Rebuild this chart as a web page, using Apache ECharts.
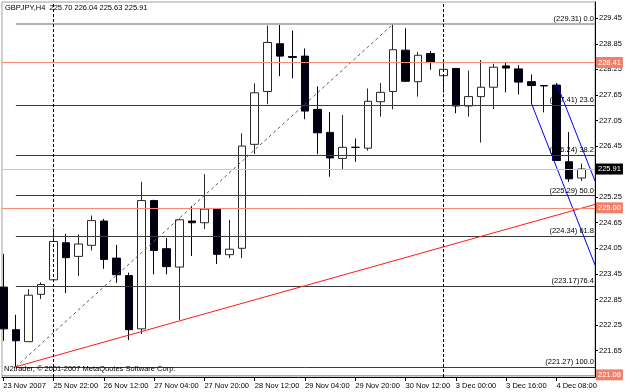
<!DOCTYPE html>
<html><head><meta charset="utf-8">
<script src="https://cdn.jsdelivr.net/npm/echarts@6/dist/echarts.min.js"></script>
<style>html,body{margin:0;padding:0;background:#fff}#c{width:625px;height:392px}</style>
</head><body><div id="c"></div>
<script>
// ---------- data ----------
const symbol = 'GBPJPY';
const timeframe = 'H4';
const times = [
 '2007.11.23 08:00','2007.11.23 12:00','2007.11.23 16:00','2007.11.23 20:00',
 '2007.11.25 22:00','2007.11.26 00:00','2007.11.26 04:00','2007.11.26 08:00','2007.11.26 12:00','2007.11.26 16:00','2007.11.26 20:00',
 '2007.11.27 00:00','2007.11.27 04:00','2007.11.27 08:00','2007.11.27 12:00','2007.11.27 16:00','2007.11.27 20:00',
 '2007.11.28 00:00','2007.11.28 04:00','2007.11.28 08:00','2007.11.28 12:00','2007.11.28 16:00','2007.11.28 20:00',
 '2007.11.29 00:00','2007.11.29 04:00','2007.11.29 08:00','2007.11.29 12:00','2007.11.29 16:00','2007.11.29 20:00',
 '2007.11.30 00:00','2007.11.30 04:00','2007.11.30 08:00','2007.11.30 12:00','2007.11.30 16:00','2007.11.30 20:00',
 '2007.12.02 22:00','2007.12.03 00:00','2007.12.03 04:00','2007.12.03 08:00','2007.12.03 12:00','2007.12.03 16:00','2007.12.03 20:00',
 '2007.12.04 00:00','2007.12.04 04:00','2007.12.04 08:00','2007.12.04 12:00','2007.12.04 16:00'];
const open  = [223.14,222.14,221.86,222.97,223.31,224.18,223.86,224.12,224.69,223.82,223.41,222.16,225.17,224.04,223.61,224.69,224.65,224.97,223.90,224.05,226.49,227.73,228.85,228.55,228.56,227.31,226.77,226.16,226.42,226.40,227.49,227.73,228.70,227.96,228.62,228.10,228.27,227.39,227.61,227.83,228.33,228.26,227.96,227.87,227.88,226.08,225.70];
const high  = [223.92,222.49,223.09,223.25,224.52,224.39,224.38,224.82,224.74,224.13,223.48,225.61,225.19,224.29,224.75,225.04,225.79,224.98,224.72,226.75,227.92,229.28,229.29,229.16,228.74,227.85,227.25,227.18,226.63,227.80,227.93,229.31,229.21,228.66,228.68,228.40,228.28,228.22,228.47,228.38,228.41,228.35,228.13,227.88,227.93,226.78,226.04];
const low   = [221.88,221.27,221.85,222.86,223.30,223.00,223.40,224.00,223.57,223.24,221.90,222.04,223.44,223.44,222.37,223.87,224.50,223.68,223.82,223.82,226.26,227.43,228.09,228.04,227.08,226.26,225.73,225.91,226.08,226.34,227.14,227.31,227.95,227.61,228.24,227.70,227.22,227.14,226.53,227.32,227.71,227.66,227.46,227.24,226.10,225.61,225.63];
const close = [222.16,221.88,222.95,223.20,224.21,223.83,224.15,224.70,223.79,223.43,222.14,225.17,224.00,223.62,224.72,224.65,224.97,223.91,224.03,226.45,227.70,228.88,228.56,228.53,227.27,226.76,226.17,226.42,226.42,227.50,227.71,228.71,227.97,228.58,228.41,228.25,227.39,227.61,227.83,228.30,228.28,227.95,227.87,227.86,226.11,225.68,225.91];

const tickBars   = [0,4,8,12,16,20,24,28,32,36,40,44];
const tickLabels = ['23 Nov 2007','25 Nov 22:00','26 Nov 12:00','27 Nov 04:00','27 Nov 20:00','28 Nov 12:00','29 Nov 04:00','29 Nov 20:00','30 Nov 12:00','3 Dec 00:00','3 Dec 16:00','4 Dec 08:00'];
const priceTicks = [221.65,222.25,222.85,223.45,224.05,224.65,225.25,225.85,226.45,227.05,227.65,228.25,228.85,229.45];

const redLevels = [228.41, 225.00, 221.08];
const bidPrice = 225.91;
const fibPrices = [229.31, 227.41, 226.24, 225.29, 224.34, 223.17, 221.27];
const fibLabels = ['(229.31) 0.0','(227.41) 23.6','(226.24) 38.2','(225.29) 50.0','(224.34) 61.8','(223.17)76.4','(221.27) 100.0'];
const fibFromBar = 1, fibToBar = 31;
const separatorBars = [4, 35];
const trendFrom = [1, 221.27], trendEdgePrice = 225.08;
const channelA = [42, 227.46], channelAEdgePrice = 223.66;
const channelB = [44, 227.93], channelBEdgePrice = 225.63;
const copyright = 'N2trader, \u00a9 2001-2007 MetaQuotes Software Corp.';

// ---------- layout ----------
const xMin = -0.103, xMax = 47.07;
const yMin = 221.03, yMax = 229.83;
const FONT = '"Liberation Sans", Arial, sans-serif';
const FS = 7.5;

const source = times.map((t, i) => [i, open[i], close[i], low[i], high[i]]);
const last = times.length - 1;

const ml = [];
fibPrices.forEach((p, i) => {
  ml.push([{coord:[fibFromBar, p], lineStyle:{color: i === 0 ? '#9a9a9a' : '#3a3a3a', width: i === 0 ? 1.5 : 1, type:'solid'},
            label:{show:true, position:'insideEndTop', formatter: fibLabels[i], color:'#000', fontSize:FS, fontFamily:FONT, distance:1, padding:0}},
           {coord:[xMax, p]}]);
});
ml.push([{coord:[fibFromBar, fibPrices[6]], lineStyle:{color:'#5a5a5a', width:1, type:[3,3]}, label:{show:false}},
         {coord:[fibToBar, fibPrices[0]]}]);
ml.push([{coord:trendFrom, lineStyle:{color:'#ff1a1a', width:1, type:'solid'}, label:{show:false}},
         {coord:[xMax, trendEdgePrice]}]);
ml.push([{coord:channelA, lineStyle:{color:'#0000ff', width:1, type:'solid'}, label:{show:false}}, {coord:[xMax, channelAEdgePrice]}]);
ml.push([{coord:channelB, lineStyle:{color:'#0000ff', width:1, type:'solid'}, label:{show:false}}, {coord:[xMax, channelBEdgePrice]}]);
redLevels.forEach(p => {
  ml.push({yAxis:p, lineStyle:{color:'#f58a73', width:1, type:'solid'},
    label:{show:true, position:'end', formatter:p.toFixed(2), color:'#fff', backgroundColor:'#f0806a', padding:[2,2,1,2], fontSize:FS, fontFamily:FONT, distance:1}});
});
ml.push({yAxis:bidPrice, lineStyle:{color:'#c8c8c8', width:1, type:'solid'},
  label:{show:true, position:'end', formatter:bidPrice.toFixed(2), color:'#fff', backgroundColor:'#000', padding:[2,2,1,2], fontSize:FS, fontFamily:FONT, distance:1}});
separatorBars.forEach(b => {
  ml.push({xAxis:b, lineStyle:{color:'#000', width:1, type:[3,2]}, label:{show:false}});
});

const chart = echarts.init(document.getElementById('c'), null, {renderer:'canvas'});
chart.setOption({
  animation:false,
  backgroundColor:'#fff',
  textStyle:{fontFamily:FONT},
  grid:{left:2, right:30, top:2, bottom:15, show:true, borderColor:'#a0a0a0', borderWidth:1, backgroundColor:'#fff'},
  dataset:{source:source},
  xAxis:{type:'value', min:xMin, max:xMax, splitLine:{show:false},
    axisLine:{show:true, onZero:false, lineStyle:{color:'#000', width:1}},
    axisTick:{show:true, length:4, customValues:tickBars, lineStyle:{color:'#000'}},
    axisLabel:{show:true, customValues:tickBars, align:'left', margin:5, color:'#000', fontSize:FS, fontFamily:FONT,
      formatter: v => tickLabels[tickBars.indexOf(Math.round(v))] || ''}},
  yAxis:{type:'value', position:'right', min:yMin, max:yMax, scale:true, splitLine:{show:false},
    axisLine:{show:true, onZero:false, lineStyle:{color:'#000', width:1}},
    axisTick:{show:true, length:3, customValues:priceTicks, lineStyle:{color:'#000'}},
    axisLabel:{show:true, customValues:priceTicks, margin:4, color:'#000', fontSize:FS, fontFamily:FONT,
      formatter: v => v.toFixed(2)}},
  series:[
    {type:'line', data:[], z:2, clip:false, silent:true,
     markLine:{symbol:['none','none'], silent:true, animation:false, precision:2, data:ml}},
    {type:'candlestick', z:3, barWidth:8, encode:{x:0, y:[1,2,3,4]},
     itemStyle:{color:'#ffffff', color0:'#000010', borderColor:'#282828', borderColor0:'#000010', borderColorDoji:'#000', borderWidth:1}}
  ],
  graphic:[
    {type:'text', left:5, top:4, z:10, style:{text:`${symbol},${timeframe}  ${open[last].toFixed(2)} ${high[last].toFixed(2)} ${low[last].toFixed(2)} ${close[last].toFixed(2)}`, font:`${FS}px ${FONT}`, fill:'#000'}},
    {type:'text', left:4, top:365, z:10, style:{text:copyright, font:`${FS}px ${FONT}`, fill:'#000'}}
  ]
});
</script></body></html>
